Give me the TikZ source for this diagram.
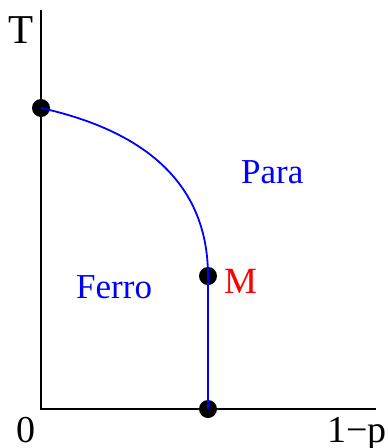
\documentclass[tikz,border=0pt]{standalone}
\usepackage{fontspec}
\setmainfont{Liberation Serif}
\begin{document}
\begin{tikzpicture}[x=1pt,y=-1pt,
  axis/.style={line width=1.2pt,black},
  phase/.style={line width=1.8pt,blue},
  dot/.style={circle,fill=black,inner sep=0pt,minimum size=18pt},
  lbl/.style={inner sep=0pt,anchor=base west}]
\useasboundingbox (0,0) rectangle (388,448);
\coordinate (O) at (41,409);
\coordinate (ytop) at (41,10);
\coordinate (xend) at (376,409);
\draw[axis] (ytop) -- (O) -- (xend);
\node[dot] (tc) at (41,108) {};
\node[dot] (m) at (208,276) {};
\node[dot] (pc) at (208,409) {};
\draw[phase] (tc.center) .. controls (140,130) and (208,180) .. (m.center) -- (pc.center);
\node[lbl,font=\fontsize{41}{41}\selectfont] (T) at (8,43) {T};
\node[lbl,font=\fontsize{38}{38}\selectfont,anchor=base] (zero) at (26,442) {0};
\node[lbl,font=\fontsize{38}{38}\selectfont] (onep) at (327,442) {1−p};
\node[lbl,font=\fontsize{35}{35}\selectfont,text=blue] (para) at (241,183) {Para};
\node[lbl,font=\fontsize{35}{35}\selectfont,text=blue] (ferro) at (76,298) {Ferro};
\node[lbl,font=\fontsize{37}{37}\selectfont,text=red] (M) at (224,293) {M};
\end{tikzpicture}
\end{document}
